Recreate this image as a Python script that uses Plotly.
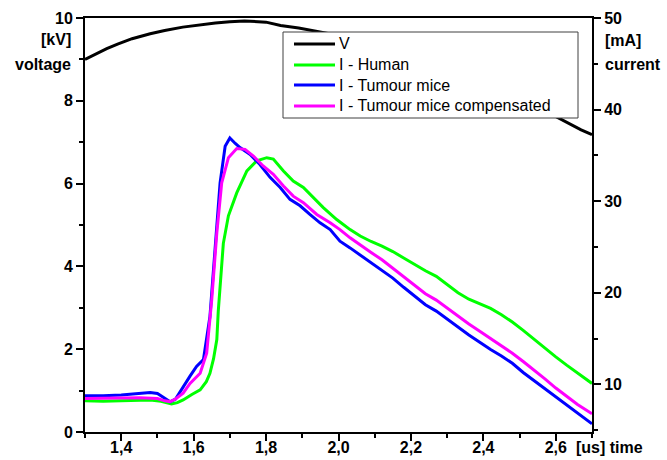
import plotly.graph_objects as go

# ---------------- data ----------------
t_v = [1.30, 1.33, 1.36, 1.39, 1.43, 1.48, 1.52, 1.57, 1.62, 1.66, 1.70, 1.74, 1.80, 1.84, 1.89, 1.93,
       2.00, 2.10, 2.20, 2.30, 2.40, 2.50, 2.60, 2.64, 2.67, 2.70]
v_kv = [9.00, 9.14, 9.26, 9.37, 9.50, 9.62, 9.70, 9.78, 9.84, 9.88, 9.91, 9.93, 9.90, 9.82, 9.76, 9.70,
        9.58, 9.38, 9.12, 8.82, 8.48, 8.08, 7.62, 7.42, 7.30, 7.18]

t_human = [1.30, 1.35, 1.40, 1.45, 1.48, 1.51, 1.539, 1.555, 1.571, 1.595, 1.618, 1.635, 1.645, 1.655,
           1.664, 1.668, 1.673, 1.682, 1.696, 1.719, 1.747, 1.774, 1.802, 1.82, 1.848, 1.875, 1.903,
           1.93, 1.958, 1.995, 2.032, 2.06, 2.09, 2.12, 2.15, 2.18, 2.21, 2.24, 2.27, 2.30, 2.33, 2.36,
           2.39, 2.42, 2.45, 2.48, 2.51, 2.54, 2.57, 2.60, 2.63, 2.66, 2.70]
i_human = [8.2, 8.15, 8.2, 8.25, 8.3, 8.15, 7.86, 8.0, 8.3, 8.9, 9.4, 10.3, 11.2, 12.8,
           14.9, 18.0, 21.1, 25.4, 28.4, 30.9, 33.3, 34.4, 34.75, 34.6, 33.3, 32.2, 31.5,
           30.4, 29.3, 28.0, 26.9, 26.2, 25.6, 25.1, 24.5, 23.8, 23.1, 22.4, 21.8, 20.9, 20.0, 19.3,
           18.8, 18.3, 17.6, 16.8, 15.9, 14.9, 14.0, 13.0, 12.1, 11.2, 10.1]

t_mice = [1.30, 1.35, 1.40, 1.45, 1.48, 1.50, 1.52, 1.535, 1.55, 1.571, 1.59, 1.608, 1.627, 1.645,
          1.659, 1.673, 1.687, 1.70, 1.715, 1.728, 1.756, 1.783, 1.811, 1.839, 1.866, 1.894, 1.921,
          1.949, 1.977, 2.004, 2.032, 2.06, 2.09, 2.12, 2.15, 2.18, 2.21, 2.24, 2.27, 2.30, 2.33,
          2.36, 2.39, 2.42, 2.45, 2.48, 2.51, 2.54, 2.57, 2.60, 2.63, 2.66, 2.70]
i_mice = [8.75, 8.75, 8.85, 9.0, 9.1, 9.0, 8.5, 8.1, 8.4, 9.76, 10.9, 11.95, 12.7, 17.4,
          24.7, 32.0, 36.0, 36.9, 36.3, 35.85, 35.1, 34.0, 32.6, 31.5, 30.2, 29.5, 28.55,
          27.64, 26.9, 25.63, 24.9, 24.1, 23.3, 22.4, 21.6, 20.6, 19.6, 18.7, 18.0, 17.1, 16.2,
          15.4, 14.6, 13.8, 13.1, 12.3, 11.3, 10.4, 9.6, 8.7, 7.8, 6.9, 5.7]

t_comp = [1.30, 1.35, 1.40, 1.45, 1.48, 1.50, 1.52, 1.535, 1.55, 1.571, 1.59, 1.618, 1.636, 1.650,
          1.664, 1.6775, 1.696, 1.719, 1.742, 1.765, 1.792, 1.82, 1.848, 1.875, 1.903, 1.94, 1.977,
          2.004, 2.032, 2.06, 2.09, 2.12, 2.15, 2.18, 2.21, 2.24, 2.27, 2.30, 2.33, 2.36, 2.39,
          2.42, 2.45, 2.48, 2.51, 2.54, 2.57, 2.60, 2.63, 2.66, 2.70]
i_comp = [8.45, 8.45, 8.5, 8.55, 8.5, 8.45, 8.2, 8.12, 8.4, 9.04, 10.1, 11.22, 13.4, 19.25,
          26.55, 32.0, 34.75, 35.74, 35.66, 34.93, 33.84, 32.93, 31.65, 30.55, 29.83, 28.55, 27.64,
          26.9, 26.0, 25.2, 24.4, 23.6, 22.7, 21.8, 20.8, 19.9, 19.2, 18.3, 17.4, 16.6, 15.8,
          15.0, 14.2, 13.4, 12.5, 11.6, 10.6, 9.6, 8.7, 7.8, 6.8]

series_names = ["V", "I - Human", "I - Tumour mice", "I - Tumour mice compensated"]
series_colors = ["#000000", "#00FF00", "#0000FF", "#FF00FF"]

x_tickvals = [1.4, 1.6, 1.8, 2.0, 2.2, 2.4, 2.6]
x_ticktext = ["1,4", "1,6", "1,8", "2,0", "2,2", "2,4", "2,6"]
y_tickvals = [0, 2, 4, 6, 8, 10]
y2_tickvals = [10, 20, 30, 40, 50]

# ---------------- figure ----------------
FONT = "Arial, Liberation Sans, sans-serif"
W, H = 667, 460
L, R, T, B = 85, 75, 18, 28
pw, ph = W - L - R, H - T - B

def px_x(px):
    return (px - L) / pw

def px_y(py):
    return (H - B - py) / ph

fig = go.Figure()
xs = [t_v, t_human, t_mice, t_comp]
ys = [v_kv, i_human, i_mice, i_comp]
axes = ["y", "y2", "y2", "y2"]
for xv, yv, nm, col, ax in zip(xs, ys, series_names, series_colors, axes):
    fig.add_trace(go.Scatter(x=xv, y=yv, name=nm, mode="lines", line=dict(color=col, width=3),
                             yaxis=ax, showlegend=False))

tickfont = dict(family=FONT, size=16, color="black", weight="bold")

fig.update_layout(
    width=W, height=H, autosize=False,
    margin=dict(l=L, r=R, t=T, b=B, autoexpand=False),
    paper_bgcolor="white", plot_bgcolor="white",
    showlegend=False,
    xaxis=dict(range=[1.3, 2.7], showgrid=False, zeroline=False, showline=True, linecolor="black", linewidth=2,
               mirror=True, ticks="outside", ticklen=7, tickwidth=1.5, tickcolor="black",
               tickvals=x_tickvals, ticktext=x_ticktext, tickfont=tickfont, ticklabeloverflow="allow",
               ticklabelstandoff=-7,
               minor=dict(dtick=0.1, tick0=1.3, ticks="outside", ticklen=4, tickwidth=1.5, tickcolor="black", showgrid=False)),
    yaxis=dict(range=[0, 10], showgrid=False, zeroline=False, showline=True, linecolor="black", linewidth=2,
               ticks="outside", ticklen=7, tickwidth=1.5, tickcolor="black",
               tickvals=y_tickvals, tickfont=tickfont,
               minor=dict(dtick=1, tick0=0, ticks="outside", ticklen=4, tickwidth=1.5, tickcolor="black", showgrid=False)),
    yaxis2=dict(range=[4.8, 50], overlaying="y", side="right", showgrid=False, zeroline=False, showline=True,
                linecolor="black", linewidth=2, ticks="outside", ticklen=7, tickwidth=1.5, tickcolor="black",
                tickvals=y2_tickvals, tickfont=tickfont,
                minor=dict(dtick=5, tick0=0, ticks="outside", ticklen=4, tickwidth=1.5, tickcolor="black", showgrid=False)),
)

# legend box (covers the traces like the original)
fig.add_shape(type="rect", xref="paper", yref="paper", x0=px_x(283), x1=px_x(578), y0=px_y(118), y1=px_y(32),
              line=dict(color="#404040", width=1), fillcolor="white", layer="above")
row_y = [44, 65, 85, 106]
for nm, col, ry in zip(series_names, series_colors, row_y):
    fig.add_shape(type="line", xref="paper", yref="paper", x0=px_x(294), x1=px_x(335), y0=px_y(ry), y1=px_y(ry),
                  line=dict(color=col, width=3), layer="above")
    fig.add_annotation(xref="paper", yref="paper", x=px_x(337), y=px_y(ry), text=nm, showarrow=False,
                       xanchor="left", yanchor="middle", font=dict(family=FONT, size=16, color="black"))

lab = dict(family=FONT, size=16, color="black", weight="bold")
anns = [
    dict(text="[kV]", x=px_x(73), y=px_y(39), xanchor="right", yanchor="middle"),
    dict(text="voltage", x=px_x(73), y=px_y(64), xanchor="right", yanchor="middle"),
    dict(text="[mA]", x=px_x(603), y=px_y(40), xanchor="left", yanchor="middle"),
    dict(text="current", x=px_x(603), y=px_y(65), xanchor="left", yanchor="middle"),
    dict(text="[us] time", x=px_x(574), y=px_y(447), xanchor="left", yanchor="middle"),
]
for a in anns:
    fig.add_annotation(xref="paper", yref="paper", showarrow=False, font=lab, **a)

fig.write_html("out.html", config={"displayModeBar": False},
               post_script="document.body.style.margin='0px';document.body.style.overflow='hidden';")
